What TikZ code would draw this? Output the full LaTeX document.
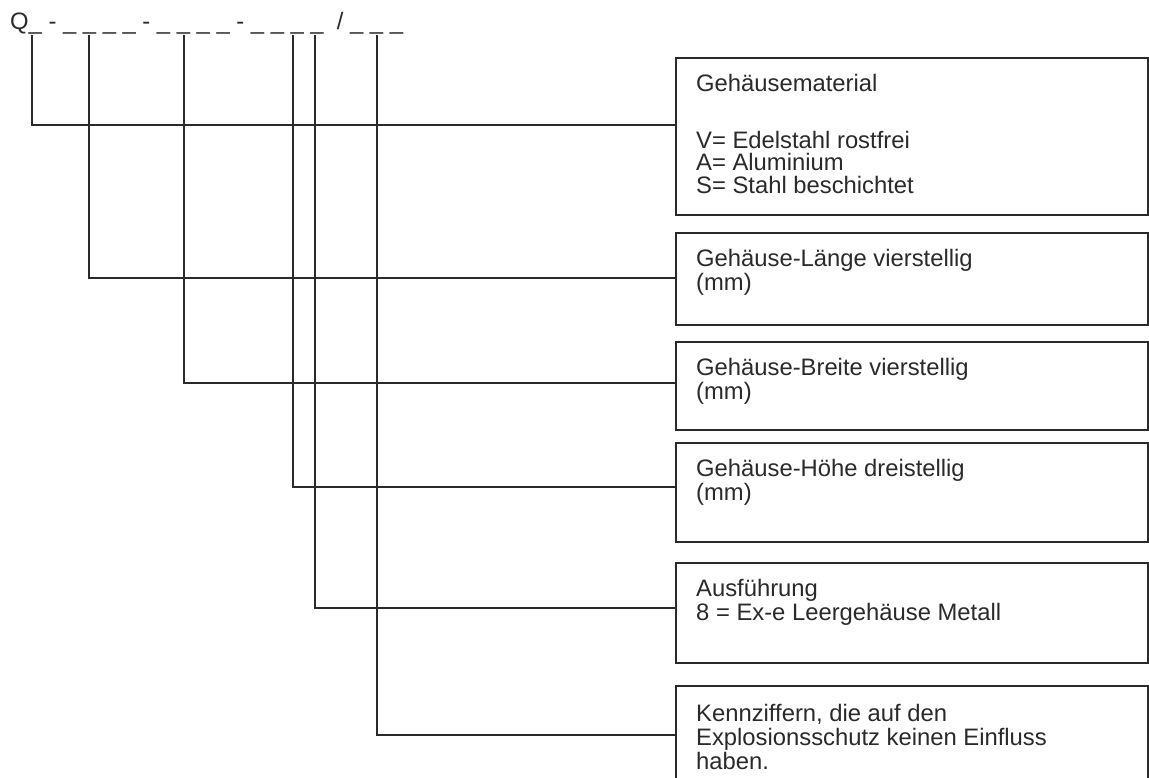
\documentclass[tikz,border=0pt]{standalone}
\usepackage{fontspec}
\setmainfont{Liberation Sans}
\definecolor{ink}{HTML}{2A2A2A}
\begin{document}
\begin{tikzpicture}[x=1pt,y=-1pt,
  box/.style={draw=ink, line width=1.5pt, minimum width=472pt, anchor=north west, inner sep=0pt},
  lbl/.style={anchor=north west, inner sep=0pt, align=left, text=ink,
    font=\fontsize{23.8}{24}\selectfont},
  conn/.style={draw=ink, line width=1.6pt}]
\useasboundingbox (0,0) rectangle (1149,777);
\clip (0,0) rectangle (1149,777);
\fill[white] (0,0) rectangle (1149,777);

\node[anchor=base west, inner sep=0pt, text=ink, font=\fontsize{23.8}{24}\selectfont]
  (code) at (10,29.5) {Q\_ - \_ \_ \_ \_ - \_ \_ \_ \_ - \_ \_ \_ \_ \ / \_ \_ \_};

% boxes
\node[box, minimum height=157pt] (b1) at (675,57) {};
\node[box, minimum height=92pt]  (b2) at (675,232) {};
\node[box, minimum height=88pt]  (b3) at (675,341) {};
\node[box, minimum height=99pt]  (b4) at (675,442) {};
\node[box, minimum height=100pt] (b5) at (675,562) {};
\node[box, minimum height=120pt] (b6) at (675,685) {};

% texts (first baseline = top + 34)
\node[lbl] (t1) at (696,71) {\rule{0pt}{20pt}Geh\"ausematerial\\[33pt]V= Edelstahl rostfrei\\[-1.5pt]A= Aluminium\\[-1.5pt]S= Stahl beschichtet};
\node[lbl] (t2) at (696,246) {\rule{0pt}{20pt}Geh\"ause-L\"ange vierstellig\\(mm)};
\node[lbl] (t3) at (696,355) {\rule{0pt}{20pt}Geh\"ause-Breite vierstellig\\(mm)};
\node[lbl] (t4) at (696,456) {\rule{0pt}{20pt}Geh\"ause-H\"ohe dreistellig\\(mm)};
\node[lbl] (t5) at (696,576) {\rule{0pt}{20pt}Ausf\"uhrung\\8 = Ex-e Leergeh\"ause Metall};
\node[lbl] (t6) at (696,701) {\rule{0pt}{20pt}Kennziffern, die auf den\\Explosionsschutz keinen Einfluss\\haben.};

% connector start points under the code positions
\coordinate (c1) at (32,35);
\coordinate (c2) at (89,35);
\coordinate (c3) at (184,35);
\coordinate (c4) at (293,35);
\coordinate (c5) at (315,35);
\coordinate (c6) at (377,35);
% connector end heights
\coordinate (e1) at (0,125);
\coordinate (e2) at (0,278);
\coordinate (e3) at (0,383);
\coordinate (e4) at (0,487);
\coordinate (e5) at (0,608);
\coordinate (e6) at (0,735);

\draw[conn] (c1) |- (b1.west |- e1);
\draw[conn] (c2) |- (b2.west |- e2);
\draw[conn] (c3) |- (b3.west |- e3);
\draw[conn] (c4) |- (b4.west |- e4);
\draw[conn] (c5) |- (b5.west |- e5);
\draw[conn] (c6) |- (b6.west |- e6);
\end{tikzpicture}
\end{document}
